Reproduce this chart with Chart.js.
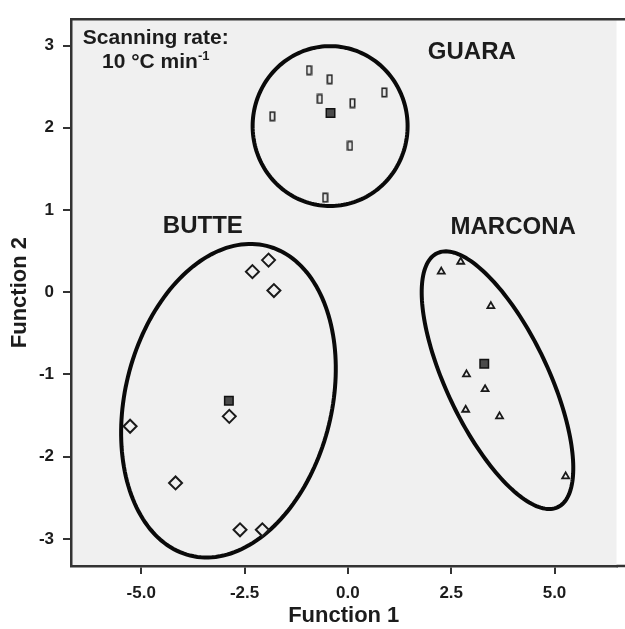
<!DOCTYPE html>
<html>
<head>
<meta charset="utf-8">
<script src="https://cdn.jsdelivr.net/npm/chart.js@4.4.0/dist/chart.umd.min.js"></script>
<style>
  html, body { margin: 0; padding: 0; background: #fff; }
  #wrap { width: 625px; height: 629px; }
</style>
</head>
<body>
<div id="wrap"><canvas id="dfa"></canvas></div>
<script>
// discriminant scores (Function 1, Function 2)
const guaraX = [-0.94, -0.44, -0.68, 0.11, 0.88, -1.83, 0.05, -0.55];
const guaraY = [2.70, 2.59, 2.35, 2.30, 2.43, 2.14, 1.78, 1.15];
const butteX = [-1.92, -2.31, -1.79, -2.87, -5.27, -4.17, -2.61, -2.07];
const butteY = [0.39, 0.25, 0.02, -1.51, -1.63, -2.32, -2.89, -2.89];
const marconaX = [2.26, 2.73, 3.46, 2.87, 3.32, 2.85, 3.67, 5.27];
const marconaY = [0.25, 0.37, -0.17, -1.00, -1.18, -1.43, -1.51, -2.24];

// group centroids: GUARA, BUTTE, MARCONA
const groupNames = ['GUARA', 'BUTTE', 'MARCONA'];
const centroidX = [-0.42, -2.88, 3.30];
const centroidY = [2.18, -1.32, -0.87];

// confidence ellipses, in function units: centre + two semi-axis vectors
const ellCenterX = [-0.43, -2.89, 3.62];
const ellCenterY = [2.02, -1.32, -1.07];
const ellMajorX = [1.875, 0.923, 1.46];
const ellMajorY = [0, 1.883, -1.544];
const ellMinorX = [0, 2.428, 1.11];
const ellMinorY = [0.972, -0.299, 0.265];

const xTicks = [-5, -2.5, 0, 2.5, 5];
const yTicks = [-3, -2, -1, 0, 1, 2, 3];

const FONT = "'Liberation Sans', Arial, sans-serif";
const INK = '#1c1c1c';
const PLOT_BG = '#f0f0f0';

function toXY(xs, ys) {
  return xs.map((x, i) => ({ x: x, y: ys[i] }));
}

// tall open rectangle used for GUARA
function rectMarker() {
  const c = document.createElement('canvas');
  c.width = 7;
  c.height = 11;
  const g = c.getContext('2d');
  g.fillStyle = PLOT_BG;
  g.fillRect(1, 1, 5, 9);
  g.strokeStyle = '#222';
  g.lineWidth = 1.6;
  g.strokeRect(1.3, 1.3, 4.4, 8.4);
  return c;
}

// where the text labels sit, in function units
const labelPos = {
  GUARA: [3.0, 2.835],
  BUTTE: [-3.51, 0.714],
  MARCONA: [4.0, 0.706]
};

const decorPlugin = {
  id: 'decor',
  beforeDraw(chart) {
    const { ctx, chartArea: a } = chart;
    ctx.save();
    ctx.fillStyle = PLOT_BG;
    ctx.fillRect(a.left, a.top, a.right - a.left, a.bottom - a.top);
    ctx.restore();
  },
  beforeDatasetsDraw(chart) {
    const { ctx, scales: { x, y } } = chart;
    ctx.save();
    ctx.strokeStyle = '#0a0a0a';
    ctx.lineWidth = 4;
    for (let k = 0; k < ellCenterX.length; k++) {
      ctx.beginPath();
      for (let i = 0; i <= 180; i++) {
        const t = i / 180 * Math.PI * 2;
        const vx = ellCenterX[k] + ellMajorX[k] * Math.cos(t) + ellMinorX[k] * Math.sin(t);
        const vy = ellCenterY[k] + ellMajorY[k] * Math.cos(t) + ellMinorY[k] * Math.sin(t);
        const px = x.getPixelForValue(vx), py = y.getPixelForValue(vy);
        if (i === 0) ctx.moveTo(px, py); else ctx.lineTo(px, py);
      }
      ctx.closePath();
      ctx.stroke();
    }
    ctx.restore();
  },
  afterDraw(chart) {
    const { ctx, chartArea: a, scales: { x, y } } = chart;
    ctx.save();
    // frame top + extend bottom line to the edge
    ctx.strokeStyle = '#333';
    ctx.lineWidth = 2.5;
    ctx.beginPath();
    ctx.moveTo(a.left - 1, a.top);
    ctx.lineTo(chart.width, a.top);
    ctx.moveTo(a.right, a.bottom);
    ctx.lineTo(chart.width, a.bottom);
    ctx.stroke();

    ctx.fillStyle = INK;
    ctx.textAlign = 'center';
    ctx.textBaseline = 'alphabetic';
    ctx.font = 'bold 24px ' + FONT;
    groupNames.forEach(n => {
      const p = labelPos[n];
      ctx.fillText(n, x.getPixelForValue(p[0]), y.getPixelForValue(p[1]));
    });

    ctx.font = 'bold 21px ' + FONT;
    const sx = x.getPixelForValue(-4.65);
    ctx.fillText('Scanning rate:', sx, y.getPixelForValue(3.015));
    const base = '10 °C min', sup = '-1';
    const w1 = ctx.measureText(base).width;
    ctx.font = 'bold 13px ' + FONT;
    const w2 = ctx.measureText(sup).width;
    const start = sx - (w1 + w2) / 2;
    const by = y.getPixelForValue(2.723);
    ctx.textAlign = 'left';
    ctx.fillText(sup, start + w1, by - 8);
    ctx.font = 'bold 21px ' + FONT;
    ctx.fillText(base, start, by);
    ctx.restore();
  }
};

new Chart(document.getElementById('dfa'), {
  type: 'scatter',
  data: {
    datasets: [
      {
        label: 'GUARA',
        data: toXY(guaraX, guaraY),
        pointStyle: rectMarker(),
        pointRadius: 5
      },
      {
        label: 'BUTTE',
        data: toXY(butteX, butteY),
        pointStyle: 'rectRot',
        pointRadius: 6.5,
        borderWidth: 2,
        borderColor: '#1a1a1a',
        backgroundColor: PLOT_BG
      },
      {
        label: 'MARCONA',
        data: toXY(marconaX, marconaY),
        pointStyle: 'triangle',
        pointRadius: 4,
        borderWidth: 1.8,
        borderColor: '#1a1a1a',
        backgroundColor: PLOT_BG
      },
      {
        label: 'Group centroid',
        data: toXY(centroidX, centroidY),
        pointStyle: 'rect',
        pointRadius: 6,
        borderWidth: 1.5,
        borderColor: '#111',
        backgroundColor: '#4a4a4a'
      }
    ]
  },
  options: {
    responsive: true,
    maintainAspectRatio: false,
    animation: false,
    layout: { padding: { top: 14, right: 5, left: 0, bottom: 0 } },
    plugins: {
      legend: { display: false },
      tooltip: { enabled: false }
    },
    scales: {
      x: {
        type: 'linear',
        min: -6.7,
        max: 6.5,
        afterBuildTicks: s => { s.ticks = xTicks.map(v => ({ value: v })); },
        afterFit: s => { s.height = 63; },
        ticks: {
          padding: 9,
          color: INK,
          font: { family: FONT, size: 17, weight: 'bold' },
          callback: v => v.toFixed(1)
        },
        grid: { display: true, drawOnChartArea: false, drawTicks: true, tickLength: 8, color: '#333', lineWidth: 2 },
        border: { display: true, color: '#333', width: 2.5 },
        title: {
          display: true,
          text: 'Function 1',
          color: INK,
          font: { family: FONT, size: 22, weight: 'bold' },
          padding: { top: 0, bottom: 0 }
        }
      },
      y: {
        type: 'linear',
        min: -3.33,
        max: 3.32,
        afterBuildTicks: s => { s.ticks = yTicks.map(v => ({ value: v })); },
        afterFit: s => { s.width = 71; },
        ticks: {
          padding: 9,
          color: INK,
          font: { family: FONT, size: 17, weight: 'bold' },
          callback: v => String(v)
        },
        grid: { display: true, drawOnChartArea: false, drawTicks: true, tickLength: 8, color: '#333', lineWidth: 2 },
        border: { display: true, color: '#333', width: 2.5 },
        title: {
          display: true,
          text: 'Function 2',
          color: INK,
          font: { family: FONT, size: 22, weight: 'bold' },
          padding: { top: 7, bottom: 0 }
        }
      }
    }
  },
  plugins: [decorPlugin]
});
</script>
</body>
</html>
